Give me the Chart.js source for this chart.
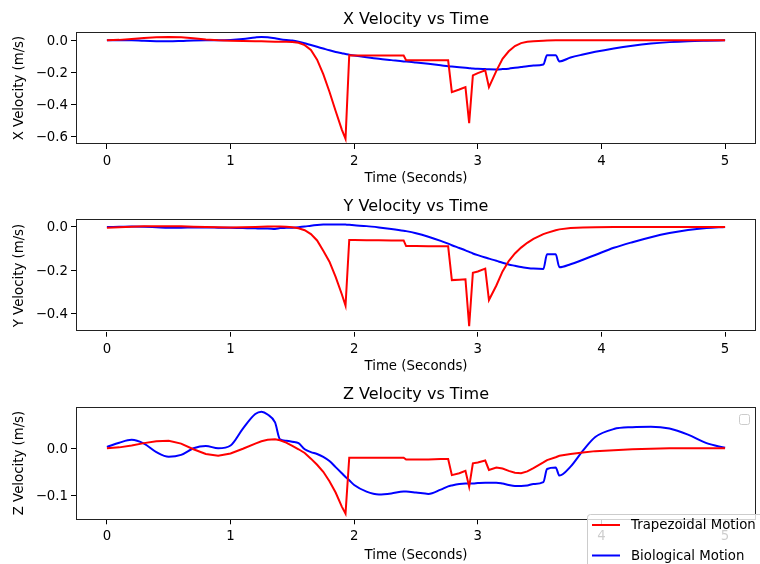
<!DOCTYPE html>
<html>
<head>
<meta charset="utf-8">
<script src="https://cdn.jsdelivr.net/npm/chart.js@4.4.0/dist/chart.umd.min.js"></script>
<style>
  html, body { margin: 0; padding: 0; background: #fff; }
  #wrap { position: relative; width: 760px; height: 564px; overflow: hidden; }
  #wrap canvas { position: absolute; left: 0; }
</style>
</head>
<body>
<div id="wrap">
  <canvas id="cx" width="760" height="188" style="top:0px;width:760px;height:188px"></canvas>
  <canvas id="cy" width="760" height="188" style="top:188px;width:760px;height:188px"></canvas>
  <canvas id="cz" width="760" height="188" style="top:376px;width:760px;height:188px"></canvas>
</div>
<script>
// time samples (s)
const time = [0, 0.1, 0.2, 0.3, 0.4, 0.5, 0.6, 0.7, 0.8, 0.9, 1.0,
  1.1, 1.2, 1.25, 1.3, 1.36, 1.4, 1.45, 1.5,
  1.55, 1.6, 1.65, 1.7, 1.75, 1.8, 1.85, 1.9, 1.93, 1.96,
  2.0, 2.1, 2.2, 2.3, 2.4, 2.42, 2.5, 2.6, 2.7, 2.76, 2.79,
  2.85, 2.9, 2.93, 2.96, 3.0, 3.06, 3.09, 3.15, 3.2, 3.25, 3.3, 3.35, 3.4, 3.45,
  3.53, 3.56, 3.63, 3.66, 3.75, 3.85, 3.95, 4.1, 4.25, 4.4, 4.55, 4.7, 4.85, 5.0];

// X velocity
const xTrap = [0, 0.003, 0.008, 0.014, 0.019, 0.021, 0.019, 0.013, 0.006, 0.001, -0.002,
  -0.004, -0.005, -0.006, -0.007, -0.008, -0.008, -0.009, -0.010,
  -0.015, -0.03, -0.06, -0.12, -0.21, -0.32, -0.44, -0.555, -0.613, -0.093,
  -0.094, -0.095, -0.095, -0.095, -0.095, -0.124, -0.124, -0.124, -0.124, -0.124, -0.322,
  -0.306, -0.291, -0.515, -0.218, -0.204, -0.187, -0.291, -0.19, -0.115, -0.068, -0.035, -0.017, -0.009, -0.005,
  -0.002, -0.001, 0, 0, 0, 0, 0, 0, 0, 0, 0, 0, 0, 0];
const xBio = [0, 0.001, 0, -0.003, -0.005, -0.006, -0.004, -0.001, 0, 0, 0.002,
  0.008, 0.018, 0.021, 0.019, 0.013, 0.007, 0.002, -0.001,
  -0.008, -0.018, -0.029, -0.040, -0.051, -0.062, -0.072, -0.080, -0.085, -0.089,
  -0.094, -0.105, -0.115, -0.123, -0.131, -0.132, -0.138, -0.146, -0.155, -0.161, -0.163,
  -0.167, -0.171, -0.173, -0.175, -0.177, -0.179, -0.180, -0.181, -0.179, -0.176, -0.171, -0.166, -0.161, -0.157,
  -0.150, -0.093, -0.092, -0.131, -0.107, -0.088, -0.071, -0.050, -0.033, -0.020, -0.011, -0.005, -0.002, 0];

// Y velocity
const yTrap = [-0.003, -0.001, 0.001, 0.003, 0.004, 0.004, 0.003, 0.001, 0, -0.001, -0.002,
  -0.001, 0, 0.001, 0.002, 0.002, 0.002, 0.001, -0.001,
  -0.006, -0.015, -0.033, -0.062, -0.11, -0.16, -0.23, -0.31, -0.363, -0.060,
  -0.060, -0.061, -0.061, -0.062, -0.062, -0.088, -0.088, -0.089, -0.089, -0.089, -0.245,
  -0.243, -0.241, -0.457, -0.211, -0.205, -0.192, -0.337, -0.27, -0.205, -0.157, -0.122, -0.095, -0.073, -0.055,
  -0.033, -0.027, -0.015, -0.011, -0.005, -0.002, -0.001, 0, 0, 0, 0, 0, 0, 0];
const yBio = [0, 0.001, 0.002, 0.001, -0.001, -0.003, -0.003, -0.002, -0.002, -0.003, -0.004,
  -0.005, -0.006, -0.007, -0.007, -0.009, -0.005, -0.004, -0.003,
  -0.001, 0.002, 0.006, 0.009, 0.011, 0.012, 0.012, 0.012, 0.011, 0.010,
  0.008, 0.004, -0.002, -0.009, -0.017, -0.019, -0.029, -0.045, -0.064, -0.077, -0.084,
  -0.097, -0.108, -0.115, -0.122, -0.130, -0.141, -0.146, -0.156, -0.165, -0.173, -0.179, -0.185, -0.189, -0.192,
  -0.194, -0.126, -0.126, -0.186, -0.172, -0.151, -0.129, -0.096, -0.070, -0.047, -0.028, -0.014, -0.005, 0];

// Z velocity
const zTrap = [0, 0.002, 0.006, 0.011, 0.015, 0.016, 0.010, -0.002, -0.012, -0.016, -0.011,
  -0.001, 0.010, 0.015, 0.018, 0.019, 0.017, 0.012, 0.005,
  -0.002, -0.010, -0.022, -0.035, -0.05, -0.07, -0.094, -0.124, -0.139, -0.020,
  -0.020, -0.020, -0.020, -0.020, -0.020, -0.024, -0.024, -0.024, -0.023, -0.023, -0.057,
  -0.053, -0.048, -0.082, -0.032, -0.030, -0.026, -0.046, -0.041, -0.043, -0.048, -0.052, -0.053, -0.049, -0.042,
  -0.030, -0.025, -0.019, -0.016, -0.012, -0.009, -0.006, -0.004, -0.002, -0.001, 0, 0, 0, 0];
const zBio = [0.003, 0.012, 0.018, 0.010, -0.008, -0.018, -0.014, 0.000, 0.005, 0.000, 0.006,
  0.042, 0.073, 0.078, 0.072, 0.055, 0.019, 0.016, 0.014,
  0.011, -0.002, -0.008, -0.012, -0.018, -0.027, -0.040, -0.053, -0.061, -0.068,
  -0.078, -0.092, -0.098, -0.096, -0.092, -0.092, -0.094, -0.097, -0.088, -0.081, -0.079,
  -0.076, -0.075, -0.075, -0.075, -0.074, -0.073, -0.073, -0.073, -0.075, -0.078, -0.080, -0.080, -0.079, -0.076,
  -0.072, -0.044, -0.041, -0.058, -0.039, -0.005, 0.024, 0.041, 0.045, 0.046, 0.042, 0.029, 0.011, 0.001];

const timeTicks = [0, 1, 2, 3, 4, 5];
const xTicks = [0, -0.2, -0.4, -0.6];
const yTicks = [0, -0.2, -0.4];
const zTicks = [0, -0.1];
const seriesNames = ['Trapezoidal Motion', 'Biological Motion'];

const FONT = 'DejaVu Sans';
const tickFont = { family: FONT, size: 13.3 };
const fmt = v => (v < 0 ? '\u2212' : '') + Math.abs(v).toFixed(1);
const pts = arr => time.map((t, i) => ({ x: t, y: arr[i] }));

// box + title (+ legend on the last panel)
const framePlugin = {
  id: 'frame',
  afterDraw(chart, args, opts) {
    const { ctx, chartArea: a } = chart;
    ctx.save();
    ctx.strokeStyle = '#222';
    ctx.lineWidth = 1;
    ctx.strokeRect(Math.round(a.left) + 0.5, Math.round(a.top) + 0.5,
      Math.round(a.right - a.left) - 1, Math.round(a.bottom - a.top) - 1);
    ctx.fillStyle = '#000';
    ctx.font = '16px "' + FONT + '"';
    ctx.textAlign = 'center';
    ctx.textBaseline = 'middle';
    ctx.fillText(opts.title, (a.left + a.right) / 2, opts.titleY);

    if (opts.legend) {
      // matplotlib's empty legend box
      ctx.fillStyle = 'rgba(255,255,255,0.8)';
      ctx.strokeStyle = '#ccc';
      ctx.beginPath();
      ctx.roundRect(739.5, 38.5, 10, 10, 2);
      ctx.fill(); ctx.stroke();
      // figure legend, bottom right
      ctx.beginPath();
      ctx.roundRect(587.5, 138.5, 200, 80, 3);
      ctx.fill(); ctx.stroke();
      const ds = chart.data.datasets;
      const rows = [149, 179.5];
      ctx.font = '13.3px "' + FONT + '"';
      ctx.textAlign = 'left';
      ds.forEach((d, i) => {
        ctx.strokeStyle = d.borderColor;
        ctx.lineWidth = 2;
        ctx.beginPath();
        ctx.moveTo(592, rows[i]); ctx.lineTo(620, rows[i]);
        ctx.stroke();
        ctx.fillStyle = '#000';
        ctx.fillText(d.label, 631, rows[i] + 1);
      });
    }
    ctx.restore();
  }
};

function makeChart(id, c) {
  return new Chart(document.getElementById(id), {
    type: 'line',
    data: {
      datasets: [
        { label: seriesNames[0], data: pts(c.trap), borderColor: '#ff0000', borderWidth: 2,
          pointRadius: 0, tension: 0, fill: false },
        { label: seriesNames[1], data: pts(c.bio), borderColor: '#0000ff', borderWidth: 2,
          pointRadius: 0, cubicInterpolationMode: 'monotone', fill: false }
      ]
    },
    options: {
      responsive: false, animation: false, events: [],
      layout: { padding: { top: c.padTop, right: 4, left: 0, bottom: 0 } },
      plugins: {
        legend: { display: false }, tooltip: { enabled: false },
        frame: { title: c.title, titleY: c.titleY, legend: !!c.legend }
      },
      scales: {
        x: {
          type: 'linear', min: -0.25, max: 5.25,
          afterBuildTicks: ax => { ax.ticks = timeTicks.map(v => ({ value: v })); },
          afterFit: ax => { ax.height = c.xH; },
          grid: { drawOnChartArea: false, drawTicks: true, tickLength: 5, color: '#000' },
          border: { display: false },
          ticks: { color: '#000', font: tickFont, padding: 4.5, maxRotation: 0, callback: v => String(v) },
          title: { display: true, text: 'Time (Seconds)', color: '#000', font: tickFont,
                   padding: { top: 0, bottom: c.xTitlePad } }
        },
        y: {
          min: c.min, max: c.max,
          afterBuildTicks: ax => { ax.ticks = c.ticks.map(v => ({ value: v })); },
          afterFit: ax => { ax.width = 76; },
          grid: { drawOnChartArea: false, drawTicks: true, tickLength: 5, color: '#000' },
          border: { display: false },
          ticks: { color: '#000', font: tickFont, padding: 3, labelOffset: 1, callback: v => fmt(v) },
          title: { display: true, text: c.yLabel, color: '#000', font: tickFont,
                   padding: { top: 12, bottom: 0 } }
        }
      }
    },
    plugins: [framePlugin]
  });
}

makeChart('cx', { trap: xTrap, bio: xBio, ticks: xTicks, min: -0.645, max: 0.052,
  title: 'X Velocity vs Time', yLabel: 'X Velocity (m/s)',
  padTop: 32, xH: 44, xTitlePad: 1, titleY: 19.8 });
makeChart('cy', { trap: yTrap, bio: yBio, ticks: yTicks, min: -0.483, max: 0.0355,
  title: 'Y Velocity vs Time', yLabel: 'Y Velocity (m/s)',
  padTop: 31.3, xH: 44.3, xTitlePad: 1, titleY: 18.8 });
makeChart('cz', { trap: zTrap, bio: zBio, ticks: zTicks, min: -0.151, max: 0.0885,
  title: 'Z Velocity vs Time', yLabel: 'Z Velocity (m/s)',
  padTop: 30.7, xH: 44.7, xTitlePad: 0.7, titleY: 18.8, legend: true });
</script>
</body>
</html>
